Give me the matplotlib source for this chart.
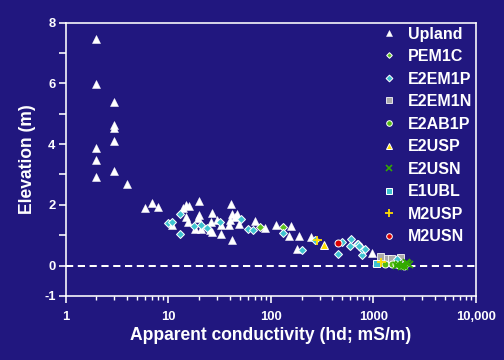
import matplotlib
matplotlib.use('Agg')
import matplotlib.pyplot as plt
from matplotlib.ticker import FixedLocator, FixedFormatter, LogLocator, NullFormatter

plt.rcParams['font.family'] = ['Liberation Sans', 'DejaVu Sans']
plt.rcParams['font.weight'] = 'bold'

upland_x = [2, 2, 2, 2, 2, 3, 3, 3, 3, 3, 4, 6, 7, 8,
            11, 14.1, 14.8, 14.9, 15.8, 15.9, 18.4, 19.4, 20, 20, 21, 25.8, 26, 27, 27.1, 30,
            32.6, 33, 39, 40, 41, 41.8, 42, 45, 47, 49,
            71, 88, 112, 151, 158, 182, 187, 246, 966, 1790]
upland_y = [7.46, 5.97, 3.87, 3.49, 2.92, 5.39, 4.62, 4.52, 4.11, 3.1, 2.69, 1.88, 2.06, 1.94,
            1.32, 1.9, 1.98, 1.6, 1.43, 1.95, 1.21, 1.56, 2.13, 1.68, 1.19, 1.16, 1.43, 1.73, 1.1, 1.49,
            1.32, 1.05, 1.32, 1.49, 2.02, 1.71, 0.83, 1.6, 1.69, 1.38,
            1.46, 1.25, 1.32, 0.97, 1.29, 0.55, 0.99, 0.95, 0.41, 0.25]

pem1c_x = [78, 131]
pem1c_y = [1.26, 1.27]

e2em1p_x = [9.9, 11, 13, 13, 18, 21, 24, 32, 51, 60, 68, 131, 203, 272,
            452, 499, 593, 601, 690, 709, 736, 777, 780, 831, 722, 1720]
e2em1p_y = [1.41, 1.42, 1.7, 1.05, 1.3, 1.35, 1.23, 1.43, 1.53, 1.21, 1.18, 1.08, 0.52, 0.83,
            0.39, 0.77, 0.63, 0.87, 0.72, 0.71, 0.61, 0.34, 0.55, 0.54, 0.66, 0.22]

e2em1n_x = [1156, 1370, 1504, 1812]
e2em1n_y = [0.33, 0.26, 0.26, 0.28]

e2ab1p_x = [1303, 1540, 1655, 1800, 2000]
e2ab1p_y = [0.06, 0.04, 0.06, 0.02, 0.0]

e2usp_x = [335]
e2usp_y = [0.69]

e2usn_x = [1650, 1760, 1850, 1930, 1990, 2080, 2150, 2250]
e2usn_y = [0.03, 0.06, 0.0, 0.06, -0.03, 0.12, 0.1, 0.06]

e1ubl_x = [1057]
e1ubl_y = [0.09]

m2usp_x = [280, 1180]
m2usp_y = [0.85, 0.12]

m2usn_x = [452]
m2usn_y = [0.75]

bg = '#21177f'

fig = plt.figure(figsize=(7, 5), dpi=72, facecolor=bg)
ax = fig.add_axes([0.130, 0.178, 0.814, 0.759], facecolor=bg)

ax.axhline(0, color='white', lw=2, ls=(0, (3.6, 2.3)), zorder=1)

ax.plot(upland_x, upland_y, '^', ms=8, color='white', mec='white', mew=0.5, label='Upland', zorder=3)
ax.plot(pem1c_x, pem1c_y, 'D', ms=5, color='#5cc21c', mec='white', mew=1, label='PEM1C', zorder=4)
ax.plot(e2em1p_x, e2em1p_y, 'D', ms=6, color='#3ec3d0', mec='white', mew=1, label='E2EM1P', zorder=4)
ax.plot(e2em1n_x, e2em1n_y, 's', ms=7, color='#aaaaaa', mec='white', mew=0.8, label='E2EM1N', zorder=3)
ax.plot(e2ab1p_x, e2ab1p_y, 'o', ms=7, color='#55bb11', mec='white', mew=1, label='E2AB1P', zorder=4)
ax.plot(e2usp_x, e2usp_y, '^', ms=8, color='#ffdd00', mec='white', mew=1, label='E2USP', zorder=4)
ax.plot(e2usn_x, e2usn_y, 'x', ms=7, color='#33aa00', mew=1.6, label='E2USN', zorder=5)
ax.plot(e1ubl_x, e1ubl_y, 's', ms=7, color='#3ec3d0', mec='white', mew=1, label='E1UBL', zorder=4)
ax.plot(m2usp_x, m2usp_y, '+', ms=9, color='#ffdd00', mew=1.8, label='M2USP', zorder=5)
ax.plot(m2usn_x, m2usn_y, 'o', ms=7, color='#dd0000', mec='white', mew=1, label='M2USN', zorder=4)

ax.set_xscale('log')
ax.set_xlim(1, 10000)
ax.set_ylim(-1, 8)

ax.xaxis.set_major_locator(FixedLocator([1, 10, 100, 1000, 10000]))
ax.xaxis.set_major_formatter(FixedFormatter(['1', '10', '100', '1000', '10,000']))
ax.xaxis.set_minor_locator(LogLocator(base=10, subs=range(2, 10)))
ax.xaxis.set_minor_formatter(NullFormatter())

ax.yaxis.set_major_locator(FixedLocator(list(range(-1, 9))))
ax.yaxis.set_major_formatter(FixedFormatter(['-1', '0', '', '2', '', '4', '', '6', '', '8']))

for s in ax.spines.values():
    s.set_color('white')
    s.set_linewidth(1.6)

ax.tick_params(axis='both', which='major', colors='white', direction='out', length=7, width=1.6,
               labelsize=13)
ax.tick_params(axis='x', which='minor', colors='white', direction='out', length=4, width=1.4)
ax.tick_params(axis='x', which='major', pad=8)
ax.tick_params(axis='y', which='major', pad=3)

ax.set_xlabel('Apparent conductivity (hd; mS/m)', color='white', fontsize=17.5, fontweight='bold', labelpad=4)
ax.set_ylabel('Elevation (m)', color='white', fontsize=17.5, fontweight='bold', labelpad=8)

leg = ax.legend(loc='upper left', bbox_to_anchor=(0.768, 0.986), frameon=False, fontsize=16,
                handlelength=1.0, handletextpad=0.7, labelspacing=0.47, borderpad=0, borderaxespad=0,
                markerscale=0.8)
for t in leg.get_texts():
    t.set_color('white')

plt.savefig('out.png', dpi=72, facecolor=bg)
